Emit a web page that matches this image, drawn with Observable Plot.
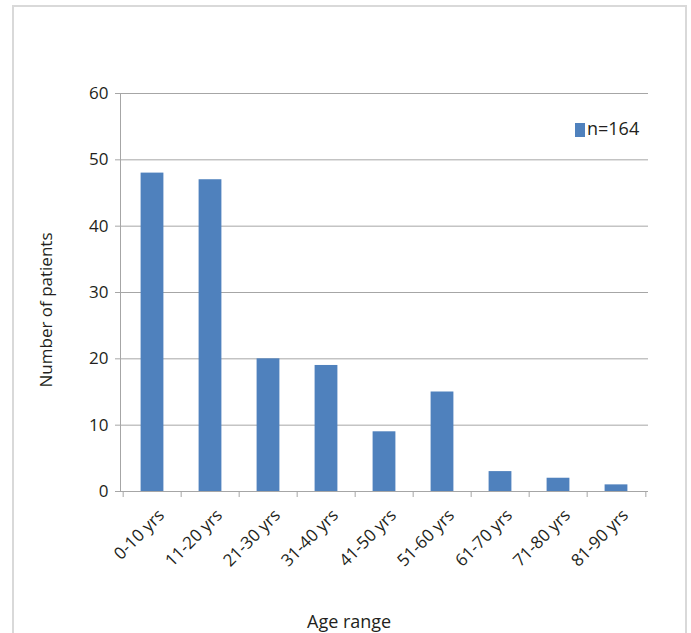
<!DOCTYPE html>
<html>
<head>
<meta charset="utf-8">
<script src="https://cdn.jsdelivr.net/npm/d3@7"></script>
<script src="https://cdn.jsdelivr.net/npm/@observablehq/plot@0.6"></script>
<style>
  html, body { margin: 0; padding: 0; background: #fff; overflow: hidden; }
  #wrap { position: relative; width: 691px; height: 633px; font-family: "Open Sans", "Noto Sans", sans-serif; color: #231f20; }
  #frame { position: absolute; left: 12px; top: 5px; width: 671px; height: 700px; border: 2px solid #d9d9d9; box-sizing: content-box; }
  #chart { position: absolute; left: 0; top: 0; }
  .lbl { position: absolute; white-space: nowrap; }
</style>
</head>
<body>
<div id="wrap">
  <div id="frame"></div>
  <div id="chart"></div>
  <div class="lbl" style="left:575px; top:123px; width:10px; height:14px; background:#4f81bd;"></div>
  <div class="lbl" style="left:587px; top:116px; font-size:18px; line-height:24px;">n=164</div>
  <div class="lbl" style="left:307px; top:609px; font-size:18px; line-height:24px;">Age range</div>
  <div class="lbl" style="left:46px; top:310px; font-size:17px; line-height:20px; transform: translate(-50%,-50%) rotate(-90deg);">Number of patients</div>
</div>
<script>
const categories = ["0-10 yrs","11-20 yrs","21-30 yrs","31-40 yrs","41-50 yrs","51-60 yrs","61-70 yrs","71-80 yrs","81-90 yrs"];
const patients = [48, 47, 20, 19, 9, 15, 3, 2, 1];
const yTicks = [0, 10, 20, 30, 40, 50, 60];

const data = categories.map((c, i) => ({age: c, n: patients[i]}));
const W = 691, H = 633, mL = 120, mR = 43, mT = 93, mB = 142;
const bw = (W - mL - mR) / categories.length;
const gray = "#a6a6a6";

const chart = Plot.plot({
  width: W, height: H,
  marginLeft: mL, marginRight: mR, marginTop: mT, marginBottom: mB,
  style: {fontFamily: "'Open Sans', 'Noto Sans', sans-serif", fontSize: "17px", color: "#231f20", background: "transparent"},
  x: {domain: categories, padding: 0, label: null},
  y: {domain: [0, 60], label: null},
  marks: [
    Plot.gridY(yTicks, {stroke: gray, strokeOpacity: 1, strokeWidth: 1}),
    Plot.barY(data, {x: "age", y: "n", fill: "#4f81bd", insetLeft: bw * 0.3, insetRight: bw * 0.3}),
    Plot.frame({anchor: "left", stroke: gray, strokeWidth: 1}),
    Plot.ruleY([0], {stroke: gray, strokeWidth: 1}),
    Plot.axisY({ticks: yTicks, tickSize: 5, tickPadding: 7, stroke: gray, fill: "#231f20", fontSize: 17}),
    Plot.axisX({ticks: categories, tickSize: 6, text: null, dx: -bw / 2, stroke: gray}),
    Plot.axisX({ticks: [categories[categories.length - 1]], tickSize: 6, text: null, dx: bw / 2, stroke: gray}),
    Plot.axisX({ticks: categories, tickSize: 0, tickRotate: -45, tickPadding: 21, dx: 9, fill: "#231f20", fontSize: 17})
  ]
});
document.getElementById("chart").appendChild(chart);
</script>
</body>
</html>
